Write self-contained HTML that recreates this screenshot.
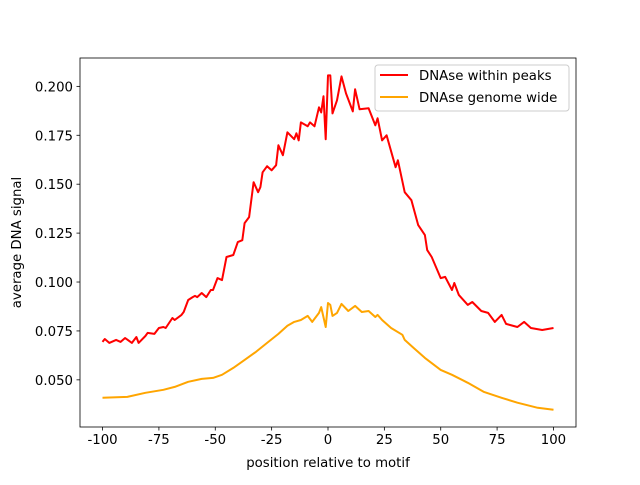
<!DOCTYPE html>
<html><head><meta charset="utf-8"><style>
body{margin:0;background:#fff}
svg text{font-family:"DejaVu Sans","Liberation Sans",sans-serif;font-size:13.3px;fill:#000}
</style></head><body>
<svg id="c" width="640" height="480"></svg>
<script>
const redX=[-100,-99,-97,-94,-92,-90,-87,-85,-84,-81,-80,-77,-75,-73,-72,-69,-68,-65,-64,-62,-60,-59,-58,-56,-54,-52,-51,-49,-47,-45,-42,-40,-38,-37,-35,-33,-31,-30,-29,-27,-25,-23,-22,-20,-18,-15,-14,-13,-12,-9,-8,-6,-4,-3,-2,-1,0,1,2,4,6,8,11,12,14,18,21,22,24,26,30,31,34,37,40,43,44,46,50,52,55,56,58,62,64,68,71,74,77,79,84,87,90,95,100];
const redY=[0.0694,0.0709,0.0689,0.0704,0.0694,0.0714,0.0689,0.0719,0.0689,0.0724,0.0740,0.0735,0.0765,0.0770,0.0765,0.0816,0.0806,0.0832,0.0847,0.0908,0.0923,0.0929,0.0923,0.0944,0.0923,0.0959,0.0959,0.1020,0.1010,0.1128,0.1138,0.1204,0.1214,0.1301,0.1332,0.1510,0.1459,0.1485,0.1561,0.1592,0.1571,0.1597,0.1699,0.1648,0.1765,0.1730,0.1760,0.1724,0.1816,0.1796,0.1816,0.1796,0.1893,0.1867,0.1949,0.1730,0.2056,0.2056,0.1862,0.1929,0.2051,0.1964,0.1872,0.1985,0.1883,0.1888,0.1801,0.1837,0.1724,0.1750,0.1587,0.1622,0.1459,0.1418,0.1291,0.1240,0.1163,0.1128,0.1020,0.1026,0.0959,0.0995,0.0934,0.0883,0.0898,0.0852,0.0842,0.0796,0.0832,0.0786,0.0770,0.0796,0.0765,0.0755,0.0765];
const orangeX=[-100,-89,-81,-73,-68,-62,-56,-51,-47,-42,-37,-32,-27,-22,-18,-15,-12,-9,-7,-4,-3,-1,0,1,2,4,6,9,12,15,18,21,22,24,28,33,34,38,43,50,55,62,69,77,84,93,100];
const orangeY=[0.0408,0.0413,0.0434,0.0449,0.0464,0.0490,0.0505,0.0510,0.0526,0.0561,0.0602,0.0643,0.0689,0.0735,0.0776,0.0796,0.0806,0.0827,0.0796,0.0842,0.0872,0.0770,0.0893,0.0883,0.0827,0.0842,0.0888,0.0852,0.0878,0.0847,0.0852,0.0821,0.0832,0.0806,0.0765,0.0730,0.0704,0.0663,0.0612,0.0551,0.0526,0.0485,0.0439,0.0408,0.0383,0.0357,0.0347];
const xTicks=[-100,-75,-50,-25,0,25,50,75,100];
const yTicks=[0.050,0.075,0.100,0.125,0.150,0.175,0.200];
const L=80,R=576,T=58,B=427;
const xMin=-110,xMax=110,yMin=0.0259,yMax=0.2145;
const sx=v=>L+(v-xMin)/(xMax-xMin)*(R-L);
const sy=v=>B-(v-yMin)/(yMax-yMin)*(B-T);
const svg=document.getElementById('c');const NS='http://www.w3.org/2000/svg';
function mk(t,a,p){const e=document.createElementNS(NS,t);for(const k in a)e.setAttribute(k,a[k]);(p||svg).appendChild(e);return e;}
function line(xs,ys,col,name){
  const d=xs.map((x,i)=>(i?'L':'M')+sx(x).toFixed(1)+' '+sy(ys[i]).toFixed(1)).join('');
  const p=mk('path',{d:d,fill:'none',stroke:col,'stroke-width':2,'stroke-linejoin':'round'});
  
  
}
line(redX,redY,'#ff0000','series-dnase-within-peaks');
line(orangeX,orangeY,'#ffa500','series-dnase-genome-wide');
const fr=mk('rect',{x:L,y:T,width:R-L,height:B-T,fill:'none',stroke:'#000','stroke-width':0.8});


xTicks.forEach(v=>{
  const x=sx(v);
  mk('line',{x1:x,x2:x,y1:B,y2:B+3.5,stroke:'#000','stroke-width':0.8});
  const t=mk('text',{x:x,y:B+17,'text-anchor':'middle'});t.textContent=v;
  
  
});
yTicks.forEach(v=>{
  const y=sy(v);
  mk('line',{x1:L,x2:L-3.5,y1:y,y2:y,stroke:'#000','stroke-width':0.8});
  const t=mk('text',{x:L-7,y:y+5,'text-anchor':'end'});t.textContent=v.toFixed(3);
  
  
});
const xt=mk('text',{x:(L+R)/2,y:467,'text-anchor':'middle'});xt.textContent='position relative to motif';


const yt=mk('text',{x:0,y:0,'text-anchor':'middle',transform:'translate(21,'+((T+B)/2)+') rotate(-90)'});yt.textContent='average DNA signal';


const lg=mk('g',{});


mk('rect',{x:375,y:65,width:194,height:46,rx:3,fill:'#fff','fill-opacity':0.8,stroke:'#ccc'},lg);
[['DNAse within peaks','#ff0000',75],['DNAse genome wide','#ffa500',97]].forEach(([n,c,y])=>{
  mk('line',{x1:380,x2:408,y1:y,y2:y,stroke:c,'stroke-width':2},lg);
  const t=mk('text',{x:419,y:y+5},lg);t.textContent=n;
  
  
});
</script>
</body></html>
